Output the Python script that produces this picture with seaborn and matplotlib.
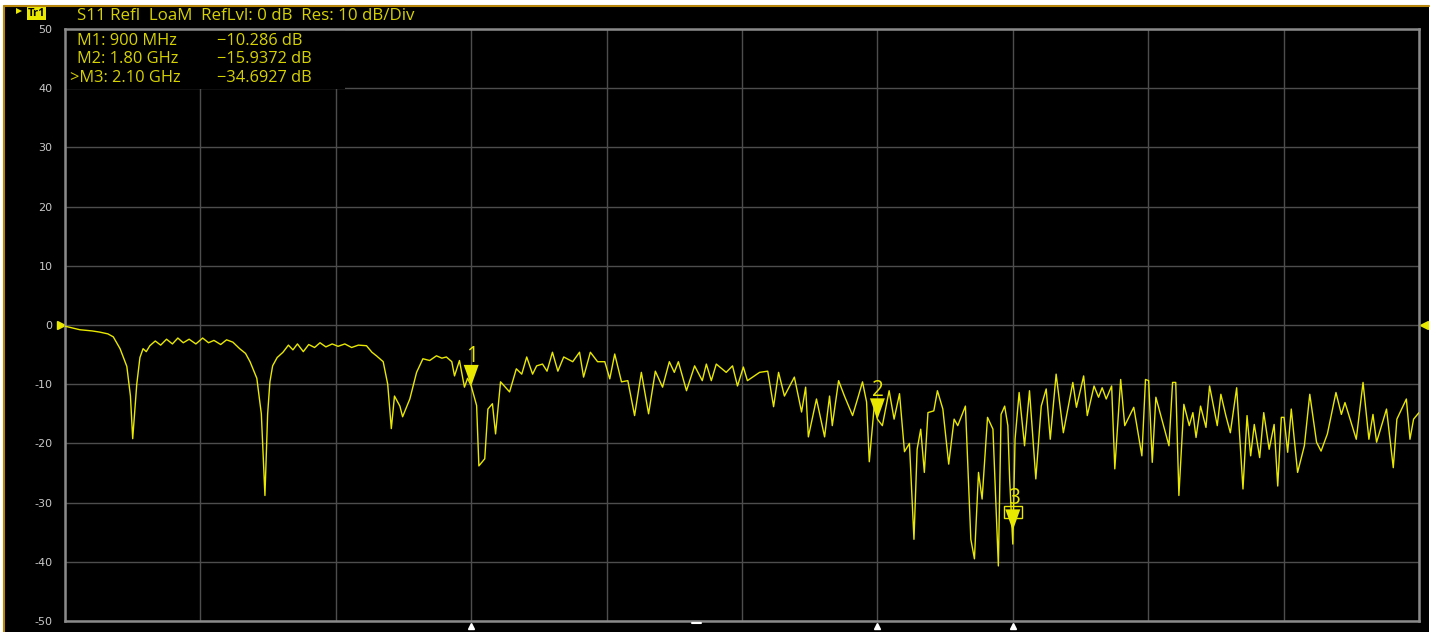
import numpy as np
import pandas as pd
import matplotlib
matplotlib.use("Agg")
import matplotlib.pyplot as plt
import seaborn as sns
from matplotlib.patches import Rectangle, Polygon
from matplotlib.lines import Line2D
from matplotlib.transforms import ScaledTranslation, blended_transform_factory

# --- data (S11, 0..3 GHz) ---
freq_ghz = [
    0.000, 0.033, 0.060, 0.077, 0.095, 0.107, 0.122, 0.137, 0.145, 0.150,
    0.155, 0.159, 0.166, 0.173, 0.180, 0.188, 0.200, 0.212, 0.225, 0.238,
    0.250, 0.262, 0.275, 0.290, 0.305, 0.318, 0.330, 0.345, 0.358, 0.372,
    0.387, 0.400, 0.410, 0.425, 0.435, 0.443, 0.449, 0.454, 0.460, 0.470,
    0.483, 0.495, 0.505, 0.515, 0.528, 0.540, 0.553, 0.565, 0.578, 0.592,
    0.605, 0.620, 0.635, 0.650, 0.668, 0.680, 0.690, 0.705, 0.715, 0.723,
    0.730, 0.742, 0.748, 0.764, 0.779, 0.793, 0.808, 0.823, 0.835, 0.845,
    0.857, 0.863, 0.874, 0.885, 0.892, 0.900, 0.912, 0.917, 0.930, 0.937,
    0.947, 0.954, 0.965, 0.985, 1.000, 1.012, 1.023, 1.036, 1.045, 1.058,
    1.068, 1.080, 1.092, 1.105, 1.125, 1.140, 1.149, 1.164, 1.180, 1.196,
    1.207, 1.218, 1.233, 1.247, 1.262, 1.277, 1.293, 1.308, 1.324, 1.339,
    1.350, 1.359, 1.377, 1.395, 1.412, 1.421, 1.432, 1.443, 1.465, 1.479,
    1.490, 1.503, 1.512, 1.539, 1.557, 1.570, 1.581, 1.594, 1.616, 1.632,
    1.641, 1.647, 1.665, 1.683, 1.694, 1.700, 1.714, 1.727, 1.745, 1.756,
    1.767, 1.776, 1.782, 1.793, 1.800, 1.811, 1.826, 1.837, 1.849, 1.860,
    1.871, 1.881, 1.888, 1.896, 1.904, 1.912, 1.925, 1.933, 1.945, 1.958,
    1.970, 1.978, 1.995, 2.007, 2.015, 2.024, 2.032, 2.044, 2.056, 2.068,
    2.074, 2.082, 2.089, 2.093, 2.100, 2.105, 2.114, 2.126, 2.137, 2.151,
    2.163, 2.174, 2.183, 2.196, 2.212, 2.233, 2.241, 2.257, 2.265, 2.280,
    2.290, 2.298, 2.307, 2.319, 2.326, 2.339, 2.348, 2.368, 2.386, 2.394,
    2.401, 2.409, 2.417, 2.446, 2.454, 2.461, 2.468, 2.479, 2.491, 2.499,
    2.506, 2.516, 2.528, 2.536, 2.553, 2.561, 2.572, 2.582, 2.596, 2.610,
    2.619, 2.627, 2.635, 2.647, 2.656, 2.668, 2.679, 2.687, 2.695, 2.701,
    2.709, 2.717, 2.731, 2.746, 2.758, 2.773, 2.783, 2.797, 2.816, 2.828,
    2.836, 2.861, 2.876, 2.889, 2.898, 2.906, 2.928, 2.943, 2.951, 2.972,
    2.980, 2.988, 3.000,
]
s11_db = [
    -0.2, -0.8, -1.0, -1.2, -1.5, -2.0, -4.0, -7.0, -12.0, -19.2,
    -14.0, -10.0, -5.5, -4.0, -4.5, -3.5, -2.7, -3.4, -2.4, -3.2,
    -2.2, -3.0, -2.4, -3.2, -2.2, -3.0, -2.6, -3.3, -2.5, -2.9,
    -4.0, -4.8, -6.2, -9.0, -15.0, -28.8, -15.0, -9.6, -6.9, -5.5,
    -4.6, -3.4, -4.2, -3.2, -4.5, -3.3, -3.8, -3.0, -3.7, -3.2,
    -3.6, -3.2, -3.8, -3.4, -3.5, -4.6, -5.2, -6.2, -10.0, -17.5,
    -12.0, -13.7, -15.5, -12.5, -8.0, -5.7, -6.0, -5.2, -5.6, -5.4,
    -6.2, -8.6, -6.0, -10.5, -9.0, -10.3, -13.6, -23.8, -22.6, -14.2,
    -13.3, -18.4, -9.6, -11.3, -7.4, -8.3, -5.4, -8.3, -6.9, -6.6,
    -7.8, -4.6, -7.8, -5.4, -6.2, -4.6, -8.8, -4.6, -6.2, -6.2,
    -9.1, -4.9, -9.6, -9.4, -15.3, -8.0, -15.0, -7.8, -10.5, -6.2,
    -8.0, -6.2, -11.1, -6.9, -9.4, -6.6, -9.4, -6.6, -8.0, -6.9,
    -10.3, -7.1, -9.4, -8.0, -7.8, -13.8, -8.0, -12.0, -8.8, -14.7,
    -10.5, -18.9, -12.5, -18.9, -12.0, -17.0, -9.4, -12.0, -15.3, -12.5,
    -9.6, -13.0, -23.1, -13.7, -15.9, -17.0, -11.1, -15.9, -11.6, -21.4,
    -20.0, -36.2, -21.0, -17.6, -24.9, -14.8, -14.5, -11.1, -14.2, -23.5,
    -15.9, -17.0, -13.7, -36.2, -39.5, -24.9, -29.4, -15.6, -17.6, -40.7,
    -15.1, -13.7, -17.0, -26.0, -37.0, -19.3, -11.4, -20.4, -11.1, -26.0,
    -13.7, -10.8, -19.3, -8.3, -18.2, -9.7, -13.9, -8.6, -15.3, -10.3,
    -12.2, -10.6, -12.5, -10.3, -24.3, -9.2, -17.0, -13.9, -22.1, -9.2,
    -9.4, -23.2, -12.2, -20.4, -9.7, -9.7, -28.8, -13.4, -17.0, -14.8,
    -19.0, -13.7, -17.3, -10.3, -17.0, -11.7, -15.3, -18.2, -10.6, -27.7,
    -15.3, -22.1, -16.8, -22.4, -14.8, -21.0, -16.8, -27.2, -15.6, -15.6,
    -21.5, -14.2, -24.9, -20.4, -11.7, -19.8, -21.3, -18.4, -11.4, -15.1,
    -13.1, -19.3, -9.7, -19.3, -15.1, -19.8, -14.2, -24.1, -15.9, -12.5,
    -19.3, -15.9, -14.8,
]

marker_names = ["M1", "M2", "M3"]
marker_freq_ghz = [0.9, 1.8, 2.1]
marker_freq_text = ["900 MHz", "1.80 GHz", "2.10 GHz"]
marker_db = [-10.286, -15.9372, -34.6927]
active_marker = 2

y_ticks = [50, 40, 30, 20, 10, 0, -10, -20, -30, -40, -50]
x_ticks = [0.0, 0.3, 0.6, 0.9, 1.2, 1.5, 1.8, 2.1, 2.4, 2.7, 3.0]
header_text = "S11 Refl  LoaM  RefLvl: 0 dB  Res: 10 dB/Div"

# --- styles ---
YEL = "#e8e800"
YEL_TXT = "#d6d200"
GRID = "#4d4d4d"
BORDER = "#8a8a8a"
W, H = 1440, 632

sns.set_theme(style="dark")
plt.rcParams['font.family'] = ['Open Sans', 'DejaVu Sans']


def fx(px):
    return px / W


def fy(py):
    return 1 - py / H


fig = plt.figure(figsize=(W / 100, H / 100), dpi=100, facecolor="white")

# screen background + orange frame
fig.add_artist(Rectangle((fx(4), 0), fx(1425), 1 - 6.5 / H, transform=fig.transFigure,
                         facecolor="black", edgecolor="none", zorder=0))
fig.add_artist(Line2D([fx(3.5), fx(1429)], [fy(6), fy(6)], transform=fig.transFigure,
                      color="#b8860b", lw=1.5))
fig.add_artist(Line2D([fx(3.5), fx(3.5)], [0, fy(6)], transform=fig.transFigure,
                      color="#b8860b", lw=1.5))

ax = fig.add_axes([fx(65), 1 - 621 / H, fx(1419 - 65), (621 - 29) / H])
ax.set_facecolor("black")

df = pd.DataFrame({"freq": freq_ghz, "s11": s11_db})
sns.lineplot(data=df, x="freq", y="s11", ax=ax, color=YEL, linewidth=1.0,
             estimator=None, zorder=3)

ax.set_xlim(0, 3)
ax.set_ylim(-50, 50)
ax.set_xticks(x_ticks)
ax.set_xticklabels([])
ax.set_yticks(y_ticks)
ax.set_yticklabels([str(t) for t in y_ticks], color="#c8c8c8", fontsize=8,
                   family=["DejaVu Sans"])
ax.tick_params(axis="both", length=0, pad=9)
ax.set_xlabel("")
ax.set_ylabel("")
ax.set_axisbelow(True)
ax.grid(True, color=GRID, linewidth=1.0)
for sp in ax.spines.values():
    sp.set_visible(True)
    sp.set_color(BORDER)
    sp.set_linewidth(1.8)

# marker info box covers the grid in the top-left corner
ax.add_patch(Rectangle((0, 1 - 60 / 592), 280 / 1354, 60 / 592, transform=ax.transAxes,
                       facecolor="black", edgecolor="none", zorder=1))

# header line
fig.text(fx(77), fy(16), header_text, color=YEL_TXT, fontsize=12.2, va="center", ha="left")
fig.add_artist(Rectangle((fx(27), fy(20)), fx(19), 13 / H, transform=fig.transFigure,
                         facecolor=YEL, edgecolor="none"))
fig.text(fx(36.5), fy(13.5), "Tr1", color="black", fontsize=8, fontweight="bold",
         va="center", ha="center")
fig.add_artist(Polygon([[fx(16), fy(8)], [fx(16), fy(14)], [fx(22), fy(11)]], closed=True,
                       transform=fig.transFigure, facecolor=YEL, edgecolor="none"))

# marker table
row_y = [41, 59, 78]
for i, name in enumerate(marker_names):
    prefix = ">" if i == active_marker else ""
    x0 = 70 if i == active_marker else 77
    fig.text(fx(x0), fy(row_y[i]), f"{prefix}{name}: {marker_freq_text[i]}",
             color=YEL_TXT, fontsize=11.8, va="center", ha="left")
    fig.text(fx(217), fy(row_y[i]), f"\u2212{abs(marker_db[i]):g} dB",
             color=YEL_TXT, fontsize=11.8, va="center", ha="left")

# markers on the trace (tip of triangle on the value)
for i, (f, v) in enumerate(zip(marker_freq_ghz, marker_db)):
    tr = fig.dpi_scale_trans + ScaledTranslation(f, v, ax.transData)
    ax.add_patch(Polygon([[-0.075, 0.21], [0.075, 0.21], [0, 0]], closed=True, transform=tr,
                         facecolor=YEL, edgecolor="none", zorder=5, clip_on=False))
    label_y = 0.265 if i == active_marker else 0.235
    ax.text(0.01, label_y, str(i + 1), transform=tr, color=YEL, fontsize=15,
            ha="center", va="baseline", zorder=5)
    if i == active_marker:
        ax.add_patch(Rectangle((-0.09, 0.12), 0.18, 0.12, transform=tr, facecolor="none",
                               edgecolor=YEL, lw=1.0, zorder=5, clip_on=False))

# marker positions below the x axis
bx = blended_transform_factory(ax.transData, ax.transAxes)
ax.plot(marker_freq_ghz, [-0.008] * 3, transform=bx, ls="none", marker="^",
        ms=5, color="white", clip_on=False, zorder=6)
ax.plot([1.39, 1.41], [-0.004, -0.004], transform=bx, color="white", lw=1.5,
        clip_on=False, zorder=6)

# reference level arrows
by = blended_transform_factory(ax.transAxes, ax.transData)
ax.plot([-0.003], [0], transform=by, ls="none", marker=">", ms=6, color=YEL, clip_on=False)
ax.plot([1.004], [0], transform=by, ls="none", marker="<", ms=6, color=YEL, clip_on=False)

fig.savefig("out.png", dpi=100, facecolor="white")
